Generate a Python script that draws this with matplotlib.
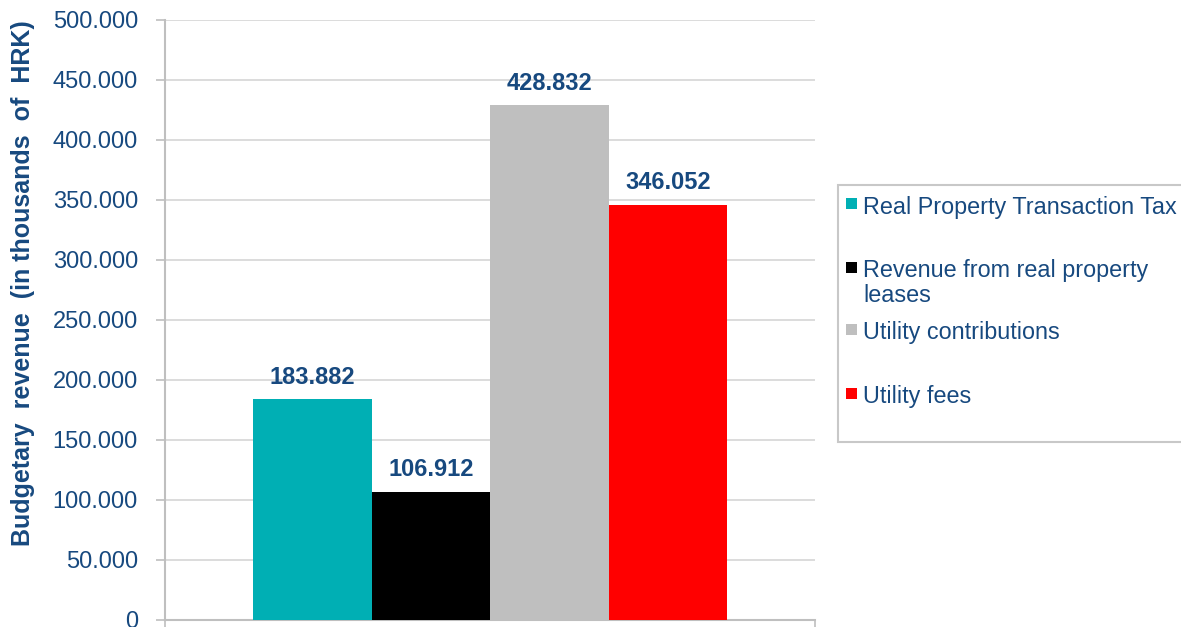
import matplotlib
matplotlib.use("Agg")
import matplotlib.pyplot as plt
from matplotlib.patches import Rectangle

plt.rcParams['font.family'] = ['Liberation Sans', 'DejaVu Sans']

# Budget revenue series (thousands of HRK)
series = ["Real Property Transaction Tax",
          "Revenue from real property\nleases",
          "Utility contributions",
          "Utility fees"]
values = [183.882, 106.912, 428.832, 346.052]
value_labels = ["183.882", "106.912", "428.832", "346.052"]
colors = ["#00AFB4", "#000000", "#BFBFBF", "#FF0000"]
yticks = [0, 50, 100, 150, 200, 250, 300, 350, 400, 450, 500]
ytick_labels = ["0", "50.000", "100.000", "150.000", "200.000", "250.000",
                "300.000", "350.000", "400.000", "450.000", "500.000"]
ylabel = "Budgetary  revenue  (in thousands  of  HRK)"

text_blue = "#17497F"
axis_gray = "#BFBFBF"
grid_gray = "#D9D9D9"

W, H, DPI = 1181, 627, 100
fig = plt.figure(figsize=(W / DPI, H / DPI), dpi=DPI)
ax = fig.add_axes([165 / W, 7 / H, 650 / W, 600 / H])

group_width = 474 / 650
bar_w = group_width / len(values)
start = -group_width / 2
for i, (v, c, lab) in enumerate(zip(values, colors, value_labels)):
    x = start + bar_w * (i + 0.5)
    ax.bar(x, v, width=bar_w, color=c, zorder=3, linewidth=0)
    ax.annotate(lab, (x, v), xytext=(0, 11), textcoords="offset points",
                ha="center", va="baseline", fontsize=17, fontweight="bold",
                color=text_blue, zorder=4)

ax.set_xlim(-0.5, 0.5)
ax.set_ylim(0, 500)
ax.set_yticks(yticks)
ax.set_yticklabels(ytick_labels)
ax.set_xticks([-0.5, 0.5])
ax.set_xticklabels([])
ax.tick_params(axis="y", direction="out", length=6.5, width=1.2, color=axis_gray,
               labelsize=17, labelcolor=text_blue, pad=13)
ax.tick_params(axis="x", direction="out", length=5, width=1.2, color=axis_gray)
ax.yaxis.grid(True, color=grid_gray, linewidth=1.3, zorder=0)
ax.set_axisbelow(True)
for s in ["top", "right"]:
    ax.spines[s].set_visible(False)
for s in ["left", "bottom"]:
    ax.spines[s].set_color(axis_gray)
    ax.spines[s].set_linewidth(1.5)

fig.text(23 / W, 1 - 283 / H, ylabel,
         rotation=90, ha="center", va="center", fontsize=18,
         fontweight="bold", color=text_blue)

# Legend box, drawn by hand so its right side runs off the figure edge
box = Rectangle((838 / W, 1 - 442 / H), 400 / W, (442 - 185) / H,
                transform=fig.transFigure, facecolor="white",
                edgecolor="#C8C8C8", linewidth=1.5, clip_on=False)
fig.add_artist(box)
entry_y = [207, 271, 333, 397]
for c, lab, yy in zip(colors, series, entry_y):
    fig.add_artist(Rectangle((846 / W, 1 - (yy + 2) / H), 11 / W, 11 / H,
                             transform=fig.transFigure, facecolor=c,
                             edgecolor="none"))
    if "\n" in lab:
        fig.text(863 / W, 1 - (yy - 12) / H, lab, ha="left", va="top",
                 fontsize=16.8, color=text_blue, linespacing=1.1)
    else:
        fig.text(863 / W, 1 - yy / H, lab, ha="left", va="center",
                 fontsize=16.8, color=text_blue)

fig.savefig("out.png", dpi=DPI)
